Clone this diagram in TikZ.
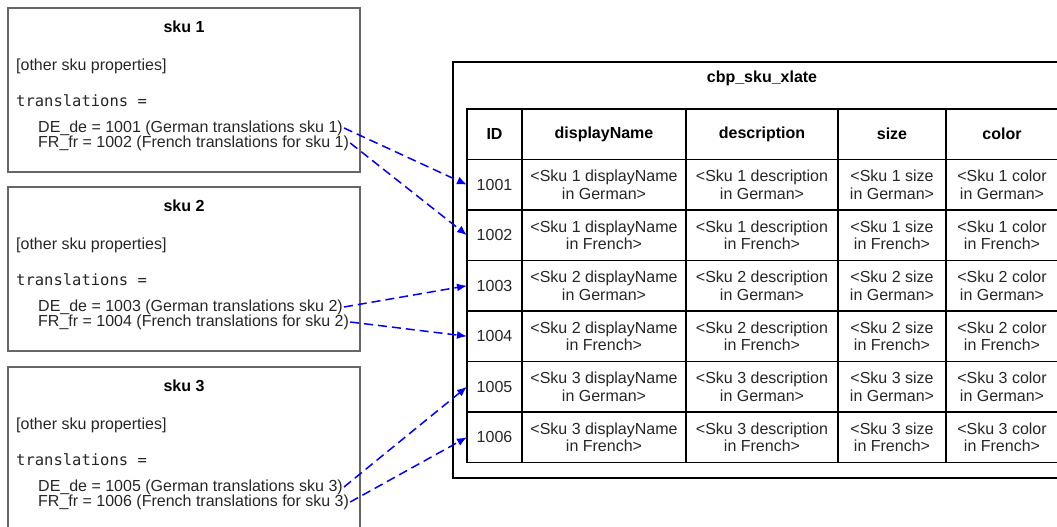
\documentclass[tikz,border=0pt]{standalone}
\usepackage{fontspec}
\setmainfont{Liberation Sans}
\newfontfamily\monotext{DejaVu Sans Mono}
\usetikzlibrary{arrows.meta}
\tikzset{
  skubox/.style={draw=black!60,line width=1.6pt,minimum width=352pt,minimum height=164pt,inner sep=0pt,outer sep=0pt},
  boxtext/.style={anchor=west,inner sep=1pt,text height=11.5pt,text depth=3.4pt,text=black!85,font=\fontsize{16}{18}\selectfont},
  tablebox/.style={draw=black,line width=1.3pt,minimum width=619pt,minimum height=416pt,inner sep=0pt,outer sep=0pt},
  cell/.style={draw=black,line width=1.5pt,minimum height=50.5pt,inner sep=0pt,outer sep=0pt,align=center,text=black!85,font=\fontsize{16}{17.5}\selectfont},
  headcell/.style={cell,text=black,font=\fontsize{16}{17.5}\selectfont\bfseries},
  link/.style={->,draw=blue,line width=1.5pt,dash pattern=on 9pt off 5pt},
}
\begin{document}
\begin{tikzpicture}[x=1pt,y=-1pt,>={Latex[length=10pt,width=8pt]}]
  \useasboundingbox (0,0) rectangle (1057,527);
  \clip (0,0) rectangle (1057,527);
  % the three skus
  \foreach \i/\top in {1/8,2/187,3/367}
  {
    \pgfmathtruncatemacro\deid{999+2*\i}
    \pgfmathtruncatemacro\frid{1000+2*\i}
    \node[skubox] (sku\i) at (184,{\top+82}) {};
    \node[text=black,font=\fontsize{16}{18}\selectfont\bfseries] (sku\i-name) at (184,{\top+19}) {sku \i};
    \node[boxtext] (sku\i-other) at (15,{\top+58}) {[other sku properties]};
    \node[boxtext,font=\fontsize{15.5}{18}\monotext] (sku\i-trans) at (15,{\top+94}) {translations =};
    \node[boxtext] (sku\i-de) at (37,{\top+120}) {DE\_de = \deid\ (German translations sku \i)};
    \node[boxtext] (sku\i-fr) at (37,{\top+135}) {FR\_fr = \frid\ (French translations for sku \i)};
  }
  % the xlate table
  \node[tablebox] (xlate) at (762.5,270) {};
  \node[text=black,font=\fontsize{16}{18}\selectfont\bfseries] (xlate-title) at (762,78) {cbp\_sku\_xlate};
  \foreach \c/\x/\w/\h in {id/494.5/55/ID,name/604/164/displayName,desc/762/152/description,size/892/108/size,color/1002/112/color}
  {
    \node[headcell,minimum width=\w pt] (head-\c) at (\x,134.25) {\h};
  }
  \foreach \r in {1,...,6}
  {
    \pgfmathtruncatemacro\skunum{(\r+1)/2}
    \pgfmathsetmacro\y{184.75+50.5*(\r-1)}
    \ifodd\r\relax \def\langname{German}\else \def\langname{French}\fi
    \node[cell,minimum width=55pt] (id\r) at (494.5,\y) {100\r};
    \node[cell,minimum width=164pt] (name\r) at (604,\y) {<Sku \skunum\ displayName\\in \langname>};
    \node[cell,minimum width=152pt] (desc\r) at (762,\y) {<Sku \skunum\ description\\in \langname>};
    \node[cell,minimum width=108pt] (size\r) at (892,\y) {<Sku \skunum\ size\\in \langname>};
    \node[cell,minimum width=112pt] (color\r) at (1002,\y) {<Sku \skunum\ color\\in \langname>};
  }
  % links from the skus to the rows
  \foreach \i/\a/\b in {1/1/2,2/3/4,3/5/6}
  {
    \draw[link] (sku\i-de.east) -- (id\a.west);
    \draw[link] (sku\i-fr.east) -- (id\b.west);
  }
\end{tikzpicture}
\end{document}
